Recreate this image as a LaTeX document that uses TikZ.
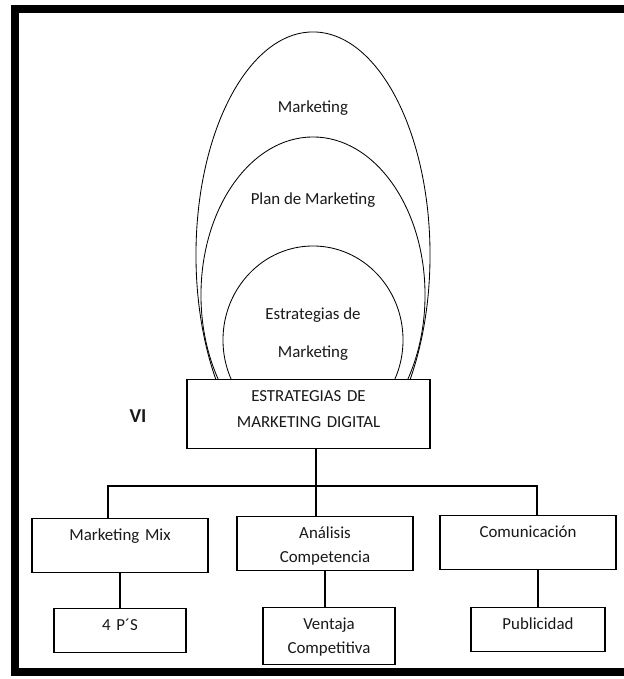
\documentclass[tikz,border=0pt]{standalone}
\usepackage{fontspec}
\setmainfont{Carlito}
\usetikzlibrary{shapes.geometric, positioning}

\begin{document}
\begin{tikzpicture}[x=0.025cm, y=-0.025cm,
    every node/.style={font=\fontsize{12}{17}\selectfont, text=black!90},
    oval/.style={draw, ellipse, line width=0.6pt, inner sep=0pt},
    box/.style={draw, line width=0.8pt, fill=white, anchor=north, align=center, inner sep=0pt, text height=0.55cm},
    link/.style={line width=0.8pt},
]
\useasboundingbox (0,0) rectangle (624,679);

% outer frame (right side runs off the page)
\draw[line width=0.1875cm] (15,9) rectangle (640,672);

% nested ovals, cut off at the top of the main box
\begin{scope}
  \clip (0,0) rectangle (624,379);
  \node[oval, minimum width=5.85cm, minimum height=11.15cm] (mktoval) at (313,255) {};
  \node[oval, minimum width=5.6cm, minimum height=7.9cm] (planoval) at (313,295) {};
  \node[oval, minimum width=4.5cm, minimum height=4.7cm] (estoval) at (313,340) {};
\end{scope}
\node (mkt) at (313,108) {Marketing};
\node (plan) at (313,200) {Plan de Marketing};
\node[align=center, font=\fontsize{12}{27}\selectfont] (est) at (313,334) {Estrategias de\\Marketing};

% main box
\node[box, text width=6.075cm, text depth=1.175cm, font=\fontsize{12}{18.5}\selectfont] (main) at (308.5,379) {ESTRATEGIAS DE\\MARKETING DIGITAL};
\node[font=\fontsize{14}{17}\selectfont\bfseries] (vi) at (138,416) {VI};

% first level
\node[box, text width=4.4cm, text depth=0.8cm] (mm) at (120,518) {Marketing Mix};
\node[box, text width=4.4cm, text depth=0.8cm] (ac) at (325,516) {Análisis\\Competencia};
\node[box, text width=4.4cm, text depth=0.8cm] (com) at (528,515) {Comunicación};

% second level
\node[box, text width=3.3cm, text depth=0.55cm, below=0.875cm of mm] (p4) {4 P´S};
\node[box, text width=3.3cm, text depth=0.875cm, below=0.9cm of ac, xshift=0.1cm] (vent) {Ventaja\\Competitiva};
\node[box, text width=3.35cm, text depth=0.55cm, below=0.925cm of com, xshift=0.25cm] (pub) {Publicidad};

% connectors
\coordinate (split) at (316,486);
\coordinate (busl) at (108,486);
\coordinate (busr) at (537,486);
\draw[link] (main.south -| split) -- (ac.north -| split);
\draw[link] (busl |- mm.north) -- (busl) -- (busr) -- (busr |- com.north);
\draw[link] (mm.south) -- (p4.north);
\draw[link] (ac.south) -- (ac.south |- vent.north);
\draw[link] (com.south -| pub.north) -- (pub.north);

\end{tikzpicture}
\end{document}
